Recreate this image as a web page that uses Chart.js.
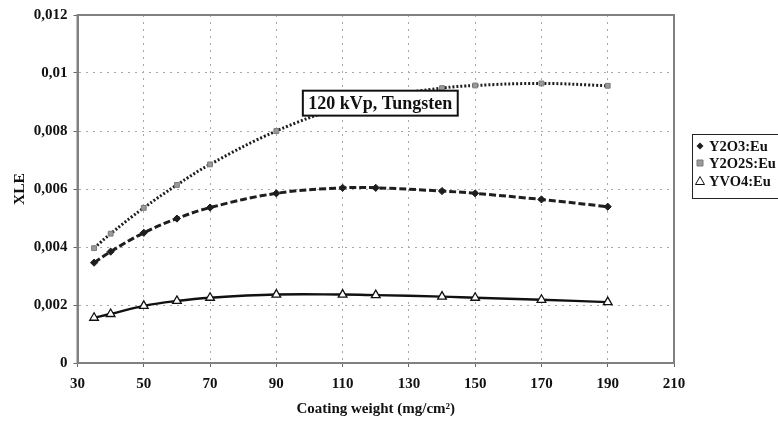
<!DOCTYPE html>
<html>
<head>
<meta charset="utf-8">
<script src="https://cdn.jsdelivr.net/npm/chart.js@4.4.1/dist/chart.umd.min.js"></script>
<style>
  html, body { margin: 0; padding: 0; background: #fff; }
  #wrap { position: relative; width: 778px; height: 424px; }
</style>
</head>
<body>
<div id="wrap"><canvas id="c" width="778" height="424"></canvas></div>
<script>
// ---- data ----
const coatingWeight = [35, 40, 50, 60, 70, 90, 110, 120, 140, 150, 170, 190];
const y2o3Eu  = [0.00346, 0.00384, 0.00449, 0.00498, 0.00536, 0.00585, 0.00604, 0.00604, 0.00593, 0.00585, 0.00564, 0.00539];
const y2o2sEu = [0.00396, 0.00446, 0.00535, 0.00614, 0.00685, 0.00800, 0.00885, 0.00915, 0.00948, 0.00957, 0.00964, 0.00956];
const yvo4Eu  = [0.00156, 0.00169, 0.00197, 0.00214, 0.00225, 0.00236, 0.00236, 0.00234, 0.00229, 0.00225, 0.00218, 0.00210];
const seriesNames = ['Y2O3:Eu', 'Y2O2S:Eu', 'YVO4:Eu'];
const yTickLabels = ['0', '0,002', '0,004', '0,006', '0,008', '0,01', '0,012'];
const xTickLabels = ['30', '50', '70', '90', '110', '130', '150', '170', '190', '210'];
const xTitle = 'Coating weight (mg/cm\u00B2)';
const yTitle = 'XLE';
const annotationText = '120 kVp, Tungsten';

const SERIF = '"Liberation Serif", "DejaVu Serif", serif';
const pts = (ys) => coatingWeight.map((x, i) => ({ x: x, y: ys[i] }));

const datasets = [
  {
    label: seriesNames[0], data: pts(y2o3Eu),
    borderColor: '#1e1e1e', borderWidth: 3, borderDash: [7, 3],
    pointStyle: 'rectRot', pointRadius: 3.6, pointBackgroundColor: '#1e1e1e',
    pointBorderColor: '#1e1e1e', pointBorderWidth: 1
  },
  {
    label: seriesNames[1], data: pts(y2o2sEu),
    borderColor: '#1e1e1e', borderWidth: 3, borderDash: [2, 2],
    pointStyle: 'rect', pointRadius: 3.4, pointBackgroundColor: '#9a9a9a',
    pointBorderColor: '#7a7a7a', pointBorderWidth: 1
  },
  {
    label: seriesNames[2], data: pts(yvo4Eu),
    borderColor: '#111', borderWidth: 2.4, borderDash: [],
    pointStyle: 'triangle', pointRadius: 5, pointBackgroundColor: '#fff',
    pointBorderColor: '#111', pointBorderWidth: 1.3
  }
];

const framePlugin = {
  id: 'frame',
  beforeDatasetsDraw(chart) {
    const { ctx, chartArea: a } = chart;
    ctx.save();
    ctx.strokeStyle = '#808080';
    ctx.lineWidth = 2;
    ctx.strokeRect(a.left, a.top, a.right - a.left, a.bottom - a.top);
    ctx.restore();
  }
};

const annotationPlugin = {
  id: 'note',
  afterDatasetsDraw(chart) {
    const { ctx } = chart;
    const xs = chart.scales.x, ys = chart.scales.y;
    const left = xs.getPixelForValue(98);
    const top = ys.getPixelForValue(0.00939);
    const bottom = ys.getPixelForValue(0.00853);
    ctx.save();
    ctx.font = 'bold 18px ' + SERIF;
    const w = ctx.measureText(annotationText).width + 11;
    ctx.fillStyle = '#fff';
    ctx.fillRect(left, top, w, bottom - top);
    ctx.strokeStyle = '#111';
    ctx.lineWidth = 2;
    ctx.strokeRect(left, top, w, bottom - top);
    ctx.fillStyle = '#111';
    ctx.textBaseline = 'middle';
    ctx.textAlign = 'left';
    ctx.fillText(annotationText, left + 5.5, (top + bottom) / 2 + 1);
    ctx.restore();
  }
};

const legendPlugin = {
  id: 'customLegend',
  afterDraw(chart) {
    const { ctx } = chart;
    const bx = 692, by = 134, bw = 90, bh = 64;
    ctx.save();
    ctx.strokeStyle = '#222';
    ctx.lineWidth = 1;
    ctx.strokeRect(bx + 0.5, by + 0.5, bw, bh);
    ctx.font = 'bold 14.5px ' + SERIF;
    ctx.textBaseline = 'middle';
    ctx.textAlign = 'left';
    const rows = [146, 163, 181];
    chart.data.datasets.forEach((ds, i) => {
      const y = rows[i];
      const x = 700;
      ctx.fillStyle = ds.pointBackgroundColor;
      ctx.strokeStyle = ds.pointBorderColor;
      ctx.lineWidth = 1;
      ctx.beginPath();
      if (ds.pointStyle === 'rectRot') {
        ctx.moveTo(x, y - 3.5); ctx.lineTo(x + 3.5, y); ctx.lineTo(x, y + 3.5); ctx.lineTo(x - 3.5, y); ctx.closePath();
        ctx.fill();
      } else if (ds.pointStyle === 'rect') {
        ctx.rect(x - 3, y - 3, 6, 6); ctx.fill(); ctx.stroke();
      } else {
        ctx.moveTo(x, y - 4.5); ctx.lineTo(x + 4.5, y + 3.5); ctx.lineTo(x - 4.5, y + 3.5); ctx.closePath();
        ctx.fill(); ctx.stroke();
      }
      ctx.fillStyle = '#111';
      ctx.fillText(ds.label, 709, y + 1);
    });
    ctx.restore();
  }
};

new Chart(document.getElementById('c'), {
  type: 'scatter',
  data: { datasets: datasets.map(d => Object.assign({ showLine: true, tension: 0.4, fill: false }, d)) },
  options: {
    responsive: false,
    animation: false,
    devicePixelRatio: 1,
    layout: { padding: { top: 5, right: 104, bottom: 0, left: 0 } },
    plugins: { legend: { display: false }, tooltip: { enabled: false } },
    scales: {
      x: {
        type: 'linear', min: 30, max: 210,
        afterFit(s) { s.height = 61; },
        ticks: {
          stepSize: 20, padding: 8, color: '#111',
          font: { family: SERIF, size: 15, weight: 'bold' },
          callback: (v, i) => xTickLabels[i]
        },
        grid: {
          color: (c) => (c.index === 0 || c.index === 9) ? 'rgba(0,0,0,0)' : '#a8a8a8',
          lineWidth: 1, tickColor: '#666', tickLength: 4, drawTicks: true
        },
        border: { display: true, color: '#808080', width: 2, dash: [2, 5] },
        title: {
          display: true, text: xTitle, color: '#111',
          font: { family: SERIF, size: 15, weight: 'bold' },
          padding: { top: 0, bottom: 6 }
        }
      },
      y: {
        type: 'linear', min: 0, max: 0.012,
        afterFit(s) { s.width = 77.5; },
        ticks: {
          stepSize: 0.002, padding: 6, color: '#111',
          font: { family: SERIF, size: 15, weight: 'bold' },
          callback: (v, i) => yTickLabels[i]
        },
        grid: {
          color: (c) => (c.index === 0 || c.index === 6) ? 'rgba(0,0,0,0)' : '#a8a8a8',
          lineWidth: 1, tickColor: '#666', tickLength: 4, drawTicks: true
        },
        border: { display: true, color: '#808080', width: 2, dash: [2, 5] },
        title: {
          display: true, text: yTitle, color: '#111',
          font: { family: SERIF, size: 15.5, weight: 'bold' },
          padding: { top: 11, bottom: 0 }
        }
      }
    }
  },
  plugins: [framePlugin, annotationPlugin, legendPlugin]
});
</script>
</body>
</html>
